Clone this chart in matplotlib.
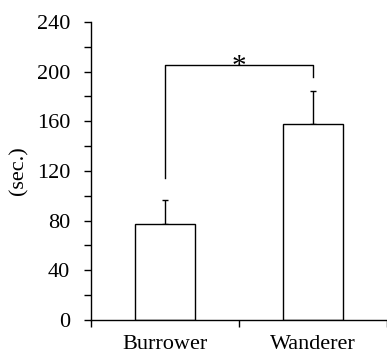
import numpy as np
import matplotlib
matplotlib.use("Agg")
import matplotlib.pyplot as plt
from matplotlib.ticker import MultipleLocator

# Data
groups = ["Burrower", "Wanderer"]
means = [77.5, 157.5]
errors = [19, 27]

plt.rcParams['font.family'] = ['Liberation Serif', 'DejaVu Serif']

fig = plt.figure(figsize=(3.87, 3.53), dpi=100)
ax = fig.add_axes([0.235, 0.0935, 0.765, 0.8442])

x = np.arange(len(groups)) + 0.5
ax.bar(x, means, width=0.4, color="white", edgecolor="black", linewidth=1.0, zorder=2)
ax.errorbar(x, means, yerr=[[0, 0], errors], fmt="none", ecolor="black",
            elinewidth=1.0, capsize=2.5, capthick=1.0, zorder=1)

# significance bracket
y_br = 205.5
ax.plot([x[0], x[0], x[1], x[1]], [114, y_br, y_br, 195.5], color="black", lw=1.0)
ax.text((x[0] + x[1]) / 2, y_br - 12, "*", ha="center", va="bottom", fontsize=21)

ax.set_xlim(0, 2)
ax.set_ylim(0, 240)
ax.yaxis.set_major_locator(MultipleLocator(40))
ax.yaxis.set_minor_locator(MultipleLocator(20))
ax.tick_params(axis="y", which="both", direction="out", length=5, width=1.0, labelsize=16, pad=10)

ax.set_xticks([0, 1, 2])
ax.set_xticklabels([])
ax.tick_params(axis="x", which="major", direction="out", length=5, width=1.0)
ax.set_xticks(x, minor=True)
ax.set_xticklabels(groups, minor=True)
ax.tick_params(axis="x", which="minor", length=0, labelsize=16, pad=11)

ax.spines["top"].set_visible(False)
ax.spines["right"].set_visible(False)
ax.spines["left"].set_linewidth(1.0)
ax.spines["bottom"].set_linewidth(1.0)
ax.spines["bottom"].set_zorder(3)

ax.set_ylabel("(sec.)", fontsize=16, labelpad=6)

fig.savefig("out.png", dpi=100)
